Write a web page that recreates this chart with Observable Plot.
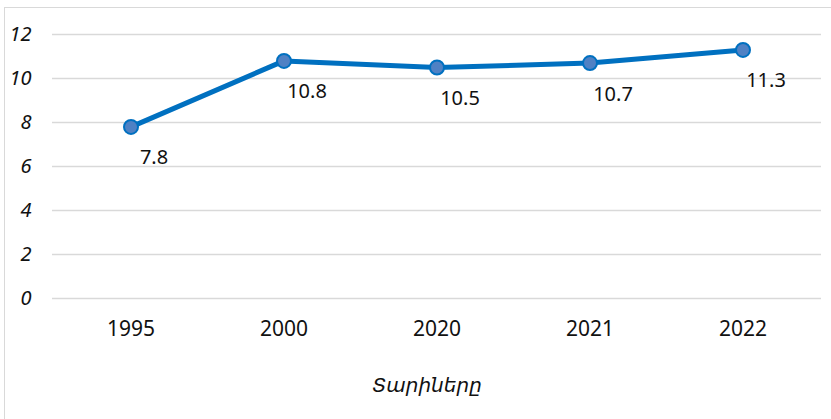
<!DOCTYPE html>
<html>
<head>
<meta charset="utf-8">
<script src="https://cdn.jsdelivr.net/npm/d3@7"></script>
<script src="https://cdn.jsdelivr.net/npm/@observablehq/plot@0.6"></script>
<style>
  html, body { margin: 0; padding: 0; background: #fff; }
  #wrap { position: relative; width: 831px; height: 419px; overflow: hidden; }
  #frame { position: absolute; left: 4px; top: 7px; width: 840px; height: 430px;
           border: 1.5px solid #d9d9d9; box-sizing: border-box; pointer-events: none; }
</style>
</head>
<body>
<div id="wrap"><div id="frame"></div></div>
<script>
// Years on the horizontal axis and the value for each year
const years = ["1995", "2000", "2020", "2021", "2022"];
const values = [7.8, 10.8, 10.5, 10.7, 11.3];
const yTicks = [0, 2, 4, 6, 8, 10, 12];
const axisTitle = "Տարիները";

const data = years.map((year, i) => ({year, value: values[i]}));

const lineColor = "#0070C0";
const dotFill = "#4F81C4";
const font = "'Noto Sans', 'DejaVu Sans', sans-serif";

const chart = Plot.plot({
  width: 831,
  height: 419,
  marginTop: 34,
  marginBottom: 121,
  marginLeft: 52,
  marginRight: 10,
  style: {fontFamily: font, background: "transparent", color: "#111"},
  x: {type: "band", domain: years, padding: 0, label: null},
  y: {domain: [0, 12], label: null},
  marks: [
    Plot.ruleY(yTicks, {stroke: "#d9d9d9", strokeWidth: 1.5}),
    Plot.axisY(yTicks, {
      tickSize: 0, tickPadding: 21, fontSize: 20, fontStyle: "italic",
      textAnchor: "end", tickFormat: d => String(d), label: null, fill: "#111"
    }),
    Plot.axisX({tickSize: 0, tickPadding: 23, fontSize: 21, label: null, fill: "#111"}),
    Plot.line(data, {x: "year", y: "value", stroke: lineColor, strokeWidth: 5}),
    Plot.dot(data, {x: "year", y: "value", r: 7, fill: dotFill, stroke: lineColor, strokeWidth: 2}),
    Plot.text(data, {
      x: "year", y: "value", text: d => d.value.toFixed(1),
      dx: 23, dy: 31, fontSize: 20, fill: "#111"
    }),
    Plot.text([axisTitle], {
      frameAnchor: "bottom", dx: -10, dy: 93, text: d => d,
      fontSize: 20, fontStyle: "italic", fontFamily: "'DejaVu Sans', sans-serif", fill: "#111"
    })
  ]
});

document.getElementById("wrap").prepend(chart);
</script>
</body>
</html>
